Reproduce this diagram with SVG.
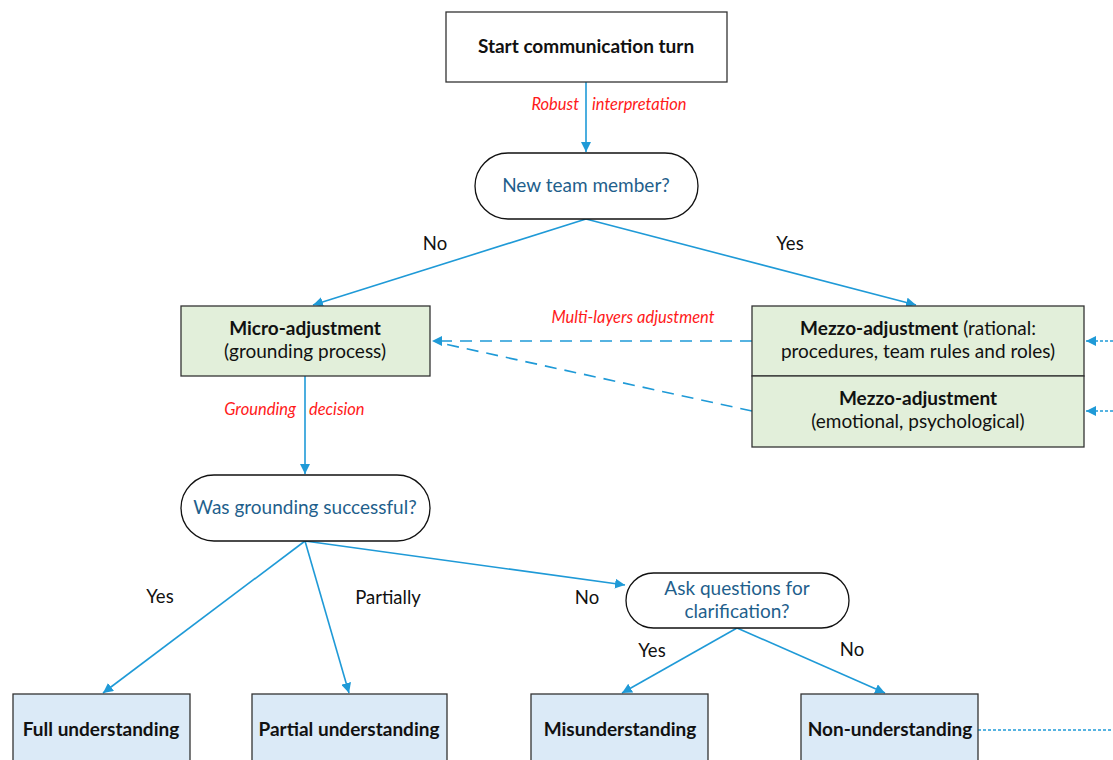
<svg xmlns="http://www.w3.org/2000/svg" width="1113" height="760" viewBox="0 0 1113 760">
  <defs>
    <marker id="arr" viewBox="0 0 10 10" refX="10" refY="5" markerWidth="10" markerHeight="10" markerUnits="userSpaceOnUse" orient="auto">
      <path d="M0,0 L10,5 L0,10 z" fill="#1f9ad7"/>
    </marker>
    <style>
      text { font-family: Lato, "Open Sans", "Liberation Sans", sans-serif; }
      .box { stroke: #333; stroke-width: 1.3; }
      .plain { fill: #fff; }
      .green { fill: #e2efda; }
      .blue { fill: #dbeaf7; }
      .pill { fill: #fff; stroke: #111; stroke-width: 1.3; }
      .t { font-size: 19px; fill: #111; text-anchor: middle; }
      .b { font-weight: bold; }
      .q { font-size: 19px; fill: #1f5f8c; text-anchor: middle; }
      .lbl { font-size: 18.5px; fill: #111; text-anchor: middle; }
      .red { font-size: 16.5px; fill: #ff1a1a; font-style: italic; }
      .ln { stroke: #1f9ad7; stroke-width: 1.6; fill: none; }
      .arrow { marker-end: url(#arr); }
      .dash { stroke-dasharray: 12 8; }
      .dot { stroke-dasharray: 3 2; }
    </style>
  </defs>

  <g id="connectors">
    <line class="ln arrow" x1="586" y1="82" x2="586" y2="152"/>
    <line class="ln arrow" x1="586" y1="219" x2="313" y2="305"/>
    <line class="ln arrow" x1="586" y1="219" x2="916" y2="305"/>
    <line class="ln arrow dash" x1="752" y1="341" x2="432" y2="341"/>
    <line class="ln dash" x1="752" y1="411" x2="440" y2="343"/>
    <line class="ln arrow dot" x1="1113" y1="341" x2="1086" y2="341"/>
    <line class="ln arrow dot" x1="1113" y1="411" x2="1086" y2="411"/>
    <line class="ln arrow" x1="305" y1="376" x2="305" y2="474"/>
    <line class="ln arrow" x1="305" y1="541" x2="103" y2="693"/>
    <line class="ln arrow" x1="305" y1="541" x2="349" y2="693"/>
    <line class="ln arrow" x1="305" y1="541" x2="625" y2="585"/>
    <line class="ln arrow" x1="737" y1="628" x2="622" y2="693"/>
    <line class="ln arrow" x1="737" y1="628" x2="885" y2="693"/>
    <line class="ln dot" x1="978" y1="730" x2="1113" y2="730"/>
    <text class="red" x="579" y="110" text-anchor="end">Robust</text>
    <text class="red" x="592" y="110">interpretation</text>
    <text class="red" x="633" y="323" text-anchor="middle">Multi-layers  adjustment</text>
    <text class="red" x="296" y="415" text-anchor="end">Grounding</text>
    <text class="red" x="309" y="415">decision</text>
    <text class="lbl" x="435" y="250">No</text>
    <text class="lbl" x="790" y="250">Yes</text>
    <text class="lbl" x="160" y="603">Yes</text>
    <text class="lbl" x="388" y="604">Partially</text>
    <text class="lbl" x="587" y="604">No</text>
    <text class="lbl" x="652" y="657">Yes</text>
    <text class="lbl" x="852" y="656">No</text>
  </g>

  <g id="start">
    <rect class="box plain" x="446" y="12" width="281" height="70"/>
    <text class="t b" x="586" y="53">Start communication turn</text>
  </g>

  <g id="new-member">
    <rect class="pill" x="475" y="153" width="223" height="66" rx="33"/>
    <text class="q" x="586" y="192">New team member?</text>
  </g>

  <g id="micro">
    <rect class="box green" x="181" y="306" width="249" height="70"/>
    <text class="t b" x="305" y="335">Micro-adjustment</text>
    <text class="t" x="305" y="358">(grounding process)</text>
  </g>

  <g id="mezzo-rational">
    <rect class="box green" x="752" y="306" width="332" height="70"/>
    <text class="t" x="918" y="335"><tspan class="b">Mezzo-adjustment</tspan> (rational:</text>
    <text class="t" x="918" y="358">procedures, team rules and roles)</text>
  </g>

  <g id="mezzo-emotional">
    <rect class="box green" x="752" y="376" width="332" height="71"/>
    <text class="t b" x="918" y="405">Mezzo-adjustment</text>
    <text class="t" x="918" y="428">(emotional, psychological)</text>
  </g>

  <g id="grounding-success">
    <rect class="pill" x="181" y="475" width="249" height="66" rx="33"/>
    <text class="q" x="305" y="514">Was grounding successful?</text>
  </g>

  <g id="ask-questions">
    <rect class="pill" x="626" y="573" width="223" height="55" rx="27.5"/>
    <text class="q" x="737" y="595">Ask questions for</text>
    <text class="q" x="737" y="618">clarification?</text>
  </g>

  <g id="full">
    <rect class="box blue" x="13" y="694" width="177" height="80"/>
    <text class="t b" x="101" y="736">Full understanding</text>
  </g>

  <g id="partial">
    <rect class="box blue" x="252" y="694" width="195" height="80"/>
    <text class="t b" x="349" y="736">Partial understanding</text>
  </g>

  <g id="misunderstanding">
    <rect class="box blue" x="531" y="694" width="177" height="80"/>
    <text class="t b" x="620" y="736">Misunderstanding</text>
  </g>

  <g id="non-understanding">
    <rect class="box blue" x="801" y="694" width="177" height="80"/>
    <text class="t b" x="890" y="736">Non-understanding</text>
  </g>
</svg>
